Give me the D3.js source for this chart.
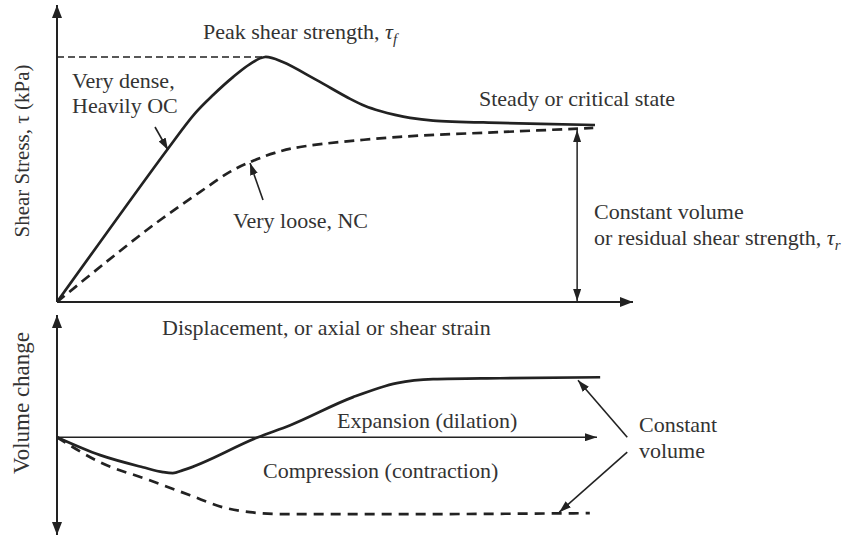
<!DOCTYPE html>
<html>
<head>
<meta charset="utf-8">
<script src="https://cdn.jsdelivr.net/npm/d3@7"></script>
<style>
  body { margin: 0; background: #fff; }
  text { font-family: "Liberation Serif", "Times New Roman", serif; fill: #333; font-size: 22px; }
</style>
</head>
<body>
<div id="chart"></div>
<script>
// displacement (arbitrary units) vs shear stress (% of axis)
var denseX = [0, 19.1, 24.0, 27.1, 30.6, 33.5, 36.1, 39.2, 45.1, 50.9, 53.5, 56.1, 58.7, 61.3, 65.3, 76.9, 93.4];
var denseY = [0, 51.2, 63.6, 69.7, 75.8, 80.1, 82.5, 80.8, 74.7, 68.4, 66.0, 64.3, 63.0, 62.0, 61.1, 60.3, 59.6];
var looseX = [0, 8.3, 17.0, 24.8, 30.0, 33.5, 37.8, 42.2, 59.5, 76.9, 93.1];
var looseY = [0, 13.1, 26.3, 37.0, 43.8, 47.1, 50.2, 52.2, 55.6, 57.2, 58.6];

// displacement vs volume change
var dilX = [0, 7.5, 14.9, 18.4, 20.1, 21.9, 34.9, 40.5, 51.4, 59.0, 65.3, 76.9, 94.3];
var dilY = [0, -5.5, -9.2, -10.7, -11.0, -10.1, 0, 3.7, 12.3, 16.6, 17.8, 18.1, 18.4];
var conX = [0, 7.5, 16.1, 23.1, 28.8, 33.5, 39.2, 47.9, 59.5, 92.5];
var conY = [0, -7.7, -13.2, -17.8, -21.5, -23.0, -23.6, -23.6, -23.6, -23.3];

var peakX = 36.1, peakY = 82.5;
var residualX = 90.3, residualY = 57.9;

var W = 842, H = 538;
var svg = d3.select("#chart").append("svg")
    .attr("width", W)
    .attr("height", H);

var x = d3.scaleLinear().domain([0, 100]).range([57, 633]);
var yTop = d3.scaleLinear().domain([0, 100]).range([302, 5]);
var yBot = d3.scaleLinear().domain([-30, 37.5]).range([535, 315]);

var ink = "#222";

// arrow heads
var defs = svg.append("defs");
function marker(id, len, wid) {
  defs.append("marker")
      .attr("id", id)
      .attr("markerUnits", "userSpaceOnUse")
      .attr("viewBox", "0 0 " + len + " " + wid)
      .attr("refX", len)
      .attr("refY", wid / 2)
      .attr("markerWidth", len)
      .attr("markerHeight", wid)
      .attr("orient", "auto-start-reverse")
    .append("path")
      .attr("d", "M0,0L" + len + "," + (wid / 2) + "L0," + wid + "Z")
      .attr("fill", ink);
}
marker("big", 13, 10);
marker("small", 12, 8);

function zip(xs, ys) { return xs.map(function(v, i) { return [v, ys[i]]; }); }

function arrow(x1, y1, x2, y2, w, m, both) {
  var l = svg.append("line")
      .attr("x1", x1).attr("y1", y1)
      .attr("x2", x2).attr("y2", y2)
      .attr("stroke", ink)
      .attr("stroke-width", w)
      .attr("marker-end", "url(#" + m + ")");
  if (both) l.attr("marker-start", "url(#" + m + ")");
}

// ---- top panel ----
arrow(x(0), yTop(0), x(0), yTop(100), 2, "big");
arrow(x(0), yTop(0), x(100), yTop(0), 2, "big");

// peak level
svg.append("line")
    .attr("x1", x(0)).attr("y1", yTop(peakY))
    .attr("x2", x(peakX)).attr("y2", yTop(peakY))
    .attr("stroke", ink)
    .attr("stroke-width", 1.5)
    .attr("stroke-dasharray", "7,4");

var lineTop = d3.line()
    .x(function(d) { return x(d[0]); })
    .y(function(d) { return yTop(d[1]); })
    .curve(d3.curveCatmullRom.alpha(0.5));

svg.append("path")
    .attr("d", lineTop(zip(denseX, denseY)))
    .attr("fill", "none")
    .attr("stroke", ink)
    .attr("stroke-width", 2.7);

svg.append("path")
    .attr("d", lineTop(zip(looseX, looseY)))
    .attr("fill", "none")
    .attr("stroke", ink)
    .attr("stroke-width", 2.7)
    .attr("stroke-dasharray", "10,6");

// residual strength double arrow
arrow(x(residualX), yTop(0) - 1, x(residualX), yTop(residualY), 1.5, "small", true);

// pointers
arrow(155, 127, 168, 150, 1.6, "small");
arrow(263, 200, 250, 163, 1.6, "small");

// ---- bottom panel ----
arrow(x(0), yBot(-30), x(0), yBot(37.5), 2, "big", true);
arrow(x(0), yBot(0), x(93.75), yBot(0), 1.6, "small");

var lineBot = d3.line()
    .x(function(d) { return x(d[0]); })
    .y(function(d) { return yBot(d[1]); })
    .curve(d3.curveMonotoneX);

svg.append("path")
    .attr("d", lineBot(zip(dilX, dilY)))
    .attr("fill", "none")
    .attr("stroke", ink)
    .attr("stroke-width", 2.7);

svg.append("path")
    .attr("d", lineBot(zip(conX, conY)))
    .attr("fill", "none")
    .attr("stroke", ink)
    .attr("stroke-width", 2.7)
    .attr("stroke-dasharray", "10,7");

arrow(x(99), yBot(0), x(90.45), yBot(17.5), 1.6, "small");
arrow(x(99), yBot(-4.6), x(87.2), yBot(-23.0), 1.6, "small");

// ---- labels ----
function label(tx, ty, str) {
  return svg.append("text").attr("x", tx).attr("y", ty).text(str);
}

var pk = label(203, 39, "Peak shear strength, ");
pk.append("tspan").style("font-style", "italic").text("τ");
pk.append("tspan").style("font-style", "italic").style("font-size", "15px").attr("dy", 5).text("f");

label(72, 88, "Very dense,");
label(72, 113, "Heavily OC");
label(233, 228, "Very loose, NC");
label(479, 106, "Steady or critical state");
label(594, 219, "Constant volume");
var rs = label(594, 245, "or residual shear strength, ");
rs.append("tspan").style("font-style", "italic").text("τ");
rs.append("tspan").style("font-style", "italic").style("font-size", "15px").attr("dy", 5).text("r");

label(162, 335, "Displacement, or axial or shear strain");
label(337, 428, "Expansion (dilation)");
label(263, 478, "Compression (contraction)");
label(639, 432, "Constant");
label(639, 458, "volume");

svg.append("text")
    .attr("transform", "translate(29,151) rotate(-90)")
    .attr("text-anchor", "middle")
    .style("font-size", "21px")
    .text("Shear Stress, τ (kPa)");

svg.append("text")
    .attr("transform", "translate(29,403) rotate(-90)")
    .attr("text-anchor", "middle")
    .style("font-size", "23px")
    .text("Volume change");
</script>
</body>
</html>
